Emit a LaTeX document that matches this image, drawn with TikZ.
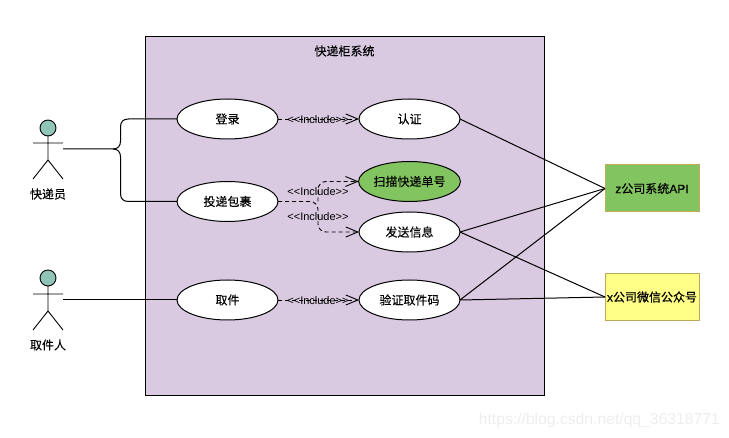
\documentclass[tikz,border=0pt]{standalone}
\usepackage{fontspec}
\setmainfont{Liberation Sans}
\newfontfamily\cjk[FakeBold=0.08]{Noto Sans CJK SC}
\newfontfamily\cjkb[FakeBold=0.25]{Noto Sans CJK SC}
\newfontfamily\latb[FakeBold=0.25]{Liberation Sans}
\usetikzlibrary{shapes.geometric,arrows.meta}
\definecolor{sysfill}{HTML}{D9C9E1}
\definecolor{greenfill}{HTML}{82C45F}
\definecolor{greenline}{HTML}{C2AE5A}
\definecolor{yellowfill}{HTML}{FFFF88}
\definecolor{yellowline}{HTML}{BBA95A}
\definecolor{headfill}{HTML}{8FC4B6}
\tikzset{
  uc/.style={ellipse,draw=black,fill=white,line width=1pt,minimum width=101pt,minimum height=40pt,inner sep=0pt,outer sep=0pt,font=\cjk\fontsize{12}{14}\selectfont},
  ucgreen/.style={uc,fill=greenfill},
  txt/.style={inner sep=0pt,outer sep=0pt,font=\cjk\fontsize{12}{14}\selectfont},
  inc/.style={inner sep=0pt,outer sep=0pt,font=\fontsize{11}{13}\selectfont},
  ext/.style={rectangle,line width=1pt,minimum width=94pt,minimum height=47pt,inner sep=0pt,outer sep=0pt,font=\latb\fontsize{12}{14}\selectfont},
  assoc/.style={draw=black,line width=1pt},
  dep/.style={draw=black,line width=.9pt,dash pattern=on 4pt off 3pt,-{Straight Barb[length=12pt,width=10pt,line width=.9pt]}},
  limb/.style={draw=black,line width=.9pt},
  head/.style={circle,draw=black,fill=headfill,line width=.9pt,minimum size=16pt,inner sep=0pt,outer sep=0pt}
}
\begin{document}
\begin{tikzpicture}[x=1pt,y=-1pt]
\useasboundingbox (0,0) rectangle (729,438);
\node[rectangle,draw=black,fill=sysfill,line width=1pt,minimum width=399pt,minimum height=359pt,inner sep=0pt,outer sep=0pt] (sys) at (344.75,216.5) {};
\node[txt] (title) at (344.5,51) {快递柜系统};

\node[uc] (login) at (227.5,119) {登录};
\node[uc] (auth) at (409.5,119) {认证};
\node[uc] (deliver) at (227.5,201.5) {投递包裹};
\node[ucgreen] (scan) at (409.5,181.5) {扫描快递单号};
\node[uc] (send) at (409.5,232) {发送信息};
\node[uc] (pick) at (227.5,300) {取件};
\node[uc] (verify) at (409.5,300) {验证取件码};

\node[ext,draw=greenline,fill=greenfill] (zapi) at (652,188.5) {z{\cjkb 公司系统}API};
\node[ext,draw=yellowline,fill=yellowfill] (xwx) at (652,297) {x{\cjkb 公司微信公众号}};

% actors
\node[head] (h1) at (48,128) {};
\coordinate (hip1) at (48,160);
\coordinate (al1) at (33,143);
\coordinate (ar1) at (63,143);
\coordinate (ll1) at (33,179);
\coordinate (lr1) at (63,179);
\coordinate (hand1) at (63,149);
\coordinate (fork) at (113,149);
\draw[limb] (h1.south) -- (hip1) (al1) -- (ar1) (ll1) -- (hip1) -- (lr1);
\node[txt] (a1) at (48,194) {快递员};

\node[head] (h2) at (48,278) {};
\coordinate (hip2) at (48,311);
\coordinate (al2) at (33,294);
\coordinate (ar2) at (63,294);
\coordinate (ll2) at (33,330);
\coordinate (lr2) at (63,330);
\coordinate (hand2) at (63,300);
\draw[limb] (h2.south) -- (hip2) (al2) -- (ar2) (ll2) -- (hip2) -- (lr2);
\node[txt] (a2) at (48,345) {取件人};

% associations
\draw[assoc] (hand1) -- (fork) .. controls (118,149) and (120.5,146) .. (120.5,141) -- (120.5,127) .. controls (120.5,122) and (123,119) .. (128.5,119) -- (login.west);
\draw[assoc] (fork) .. controls (118,149) and (120.5,152) .. (120.5,157) -- (120.5,193.5) .. controls (120.5,198.5) and (123,201.5) .. (128.5,201.5) -- (deliver.west);
\draw[assoc] (hand2) -- (pick.west);
\draw[assoc] (auth.east) -- (zapi.west);
\draw[assoc] (send.east) -- (zapi.west);
\draw[assoc] (verify.east) -- (zapi.west);
\draw[assoc] (send.east) -- (xwx.west);
\draw[assoc] (verify.east) -- (xwx.west);

% includes
\draw[dep] (login.east) -- (auth.west);
\draw[dep] (pick.east) -- (verify.west);
\draw[dep,rounded corners=8pt] (deliver.east) -- (318,201.5) -- (318,232) -- (send.west);
\draw[dep,rounded corners=8pt] (318,201.5) -- (318,181.5) -- (scan.west);
\node[inc] (l1) at (318,119.5) {<{}<Include>{}>};
\node[inc] (l2) at (318,191.5) {<{}<Include>{}>};
\node[inc] (l3) at (318,217) {<{}<Include>{}>};
\node[inc] (l4) at (318,300.5) {<{}<Include>{}>};

\node[inner sep=0pt,text=black!7,font=\fontsize{15.7}{17}\selectfont,anchor=east] (wm) at (720,420) {https://blog.csdn.net/qq\_36318771};
\end{tikzpicture}
\end{document}
